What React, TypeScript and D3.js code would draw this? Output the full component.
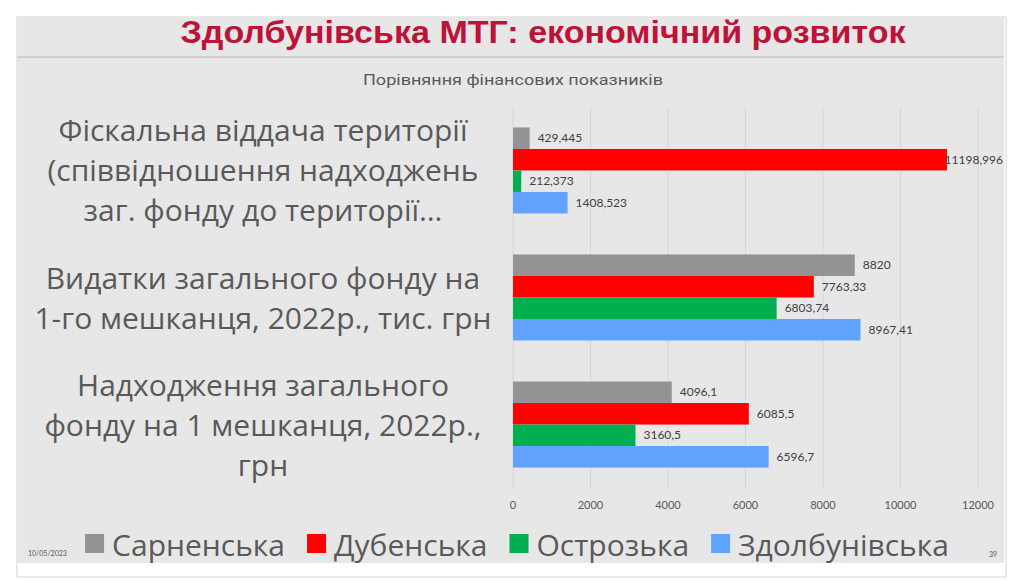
import { useEffect, useRef } from "react";
import * as d3 from "d3";

const categories = ["fiscal", "spend", "income"];
const categoryLines = [
  ["Фіскальна віддача території", "(співвідношення надходжень", "заг. фонду до території…"],
  ["Видатки загального фонду на", "1-го мешканця, 2022р., тис. грн"],
  ["Надходження загального", "фонду на 1 мешканця, 2022р.,", "грн"],
];
const seriesNames = ["Сарненська", "Дубенська", "Острозька", "Здолбунівська"];
const seriesColors = ["#939393", "#FF0000", "#00B050", "#5FA3FF"];

// values per series, in category order
const sarnenska = [429.445, 8820, 4096.1];
const dubenska = [11198.996, 7763.33, 6085.5];
const ostrozka = [212.373, 6803.74, 3160.5];
const zdolbunivska = [1408.523, 8967.41, 6596.7];
const seriesValues = [sarnenska, dubenska, ostrozka, zdolbunivska];

const xTicks = [0, 2000, 4000, 6000, 8000, 10000, 12000];

const W = 1024;
const H = 581;

export default function App() {
  const ref = useRef<SVGSVGElement>(null);

  useEffect(() => {
    if (!ref.current) return;
    const svg = d3.select(ref.current);
    svg.selectAll("*").remove();

    // slide frame
    svg.append("rect").attr("x", 17).attr("y", 17).attr("width", 989).attr("height", 560)
      .attr("fill", "#fff").attr("stroke", "#d4d4d4");
    svg.append("rect").attr("x", 17).attr("y", 17).attr("width", 987).attr("height", 546)
      .attr("fill", "#E7E7E7");
    svg.append("line").attr("x1", 17).attr("x2", 1004).attr("y1", 57).attr("y2", 57)
      .attr("stroke", "#c9c9c9").attr("stroke-width", 1.5);

    svg.append("text").attr("x", 543).attr("y", 43).attr("text-anchor", "middle")
      .attr("font-family", "'Liberation Sans Narrow', 'Liberation Sans', Arial, sans-serif")
      .attr("font-weight", "bold").attr("font-size", 32).attr("fill", "#BE1238")
      .attr("textLength", 725).attr("lengthAdjust", "spacingAndGlyphs")
      .text("Здолбунівська МТГ: економічний розвиток");

    svg.append("text").attr("x", 513).attr("y", 85).attr("text-anchor", "middle")
      .attr("font-family", "Roboto, sans-serif").attr("font-size", 15).attr("fill", "#595959")
      .attr("textLength", 300).attr("lengthAdjust", "spacingAndGlyphs")
      .text("Порівняння фінансових показників");

    const x = d3.scaleLinear().domain([0, 12000]).range([513, 978]);
    const y = d3.scaleBand().domain(categories).range([107, 488]).paddingInner(0.323).paddingOuter(0.161);
    const ys = d3.scaleBand().domain(seriesNames).range([0, y.bandwidth()]);

    // gridlines
    svg.append("g").selectAll("line").data(xTicks).join("line")
      .attr("x1", (d) => x(d)).attr("x2", (d) => x(d))
      .attr("y1", 107).attr("y2", 489)
      .attr("stroke", "#D6D6D6").attr("stroke-width", 1);

    // tick labels
    svg.append("g").selectAll("text").data(xTicks).join("text")
      .attr("x", (d) => x(d)).attr("y", 509).attr("text-anchor", "middle")
      .attr("font-family", "Lato, sans-serif").attr("font-size", 11).attr("fill", "#595959")
      .text((d) => String(d));

    // bars
    const bars = seriesNames.flatMap((s, si) =>
      categories.map((c, ci) => ({ s, si, c, ci, v: seriesValues[si][ci] }))
    );
    svg.append("g").selectAll("rect").data(bars).join("rect")
      .attr("x", x(0))
      .attr("y", (d) => (y(d.c) as number) + (ys(d.s) as number))
      .attr("width", (d) => x(d.v) - x(0))
      .attr("height", ys.bandwidth())
      .attr("fill", (d) => seriesColors[d.si]);

    // data labels
    const labels = svg.append("g").selectAll("text").data(bars).join("text")
      .attr("y", (d) => (y(d.c) as number) + (ys(d.s) as number) + ys.bandwidth() / 2)
      .attr("dy", "0.35em")
      .attr("font-family", "Lato, sans-serif").attr("font-size", 12).attr("fill", "#404040")
      .text((d) => String(d.v).replace(".", ","));
    labels.each(function (d) {
      const el = this as SVGTextElement;
      const w = el.getComputedTextLength();
      const lx = Math.min(x(d.v) + 8, 1003 - w);
      d3.select(el).attr("x", lx);
    });

    // category labels
    const cat = svg.append("g").attr("font-family", "'Open Sans', sans-serif")
      .attr("font-size", 30).attr("fill", "#595959").attr("text-anchor", "middle");
    categories.forEach((c, ci) => {
      const lines = categoryLines[ci];
      const mid = (y(c) as number) + y.bandwidth() / 2 + 11;
      cat.append("g").selectAll("text").data(lines).join("text")
        .attr("x", 263)
        .attr("y", (_, i) => mid + (i - (lines.length - 1) / 2) * 40)
        .text((d) => d);
    });

    // legend
    const legend = svg.append("g");
    let cx = 0;
    seriesNames.forEach((s, i) => {
      const g = legend.append("g").attr("transform", `translate(${cx},0)`);
      g.append("rect").attr("x", 0).attr("y", 534).attr("width", 19).attr("height", 19)
        .attr("fill", seriesColors[i]);
      const t = g.append("text").attr("x", 27).attr("y", 556)
        .attr("font-family", "'Open Sans', sans-serif").attr("font-size", 30).attr("fill", "#595959")
        .text(s);
      const w = (t.node() as SVGTextElement).getComputedTextLength();
      cx += 27 + w + 22;
    });
    const total = cx - 22;
    legend.attr("transform", `translate(${517 - total / 2},0)`);

    // footer
    svg.append("text").attr("x", 28).attr("y", 556)
      .attr("font-family", "Lato, sans-serif").attr("font-size", 7).attr("fill", "#595959")
      .text("10/05/2023");
    svg.append("text").attr("x", 989).attr("y", 557)
      .attr("font-family", "Lato, sans-serif").attr("font-size", 7).attr("fill", "#595959")
      .text("39");
  }, []);

  return (
    <svg
      ref={ref}
      width={W}
      height={H}
      style={{ position: "absolute", left: 0, top: 0, background: "#fff" }}
    />
  );
}
